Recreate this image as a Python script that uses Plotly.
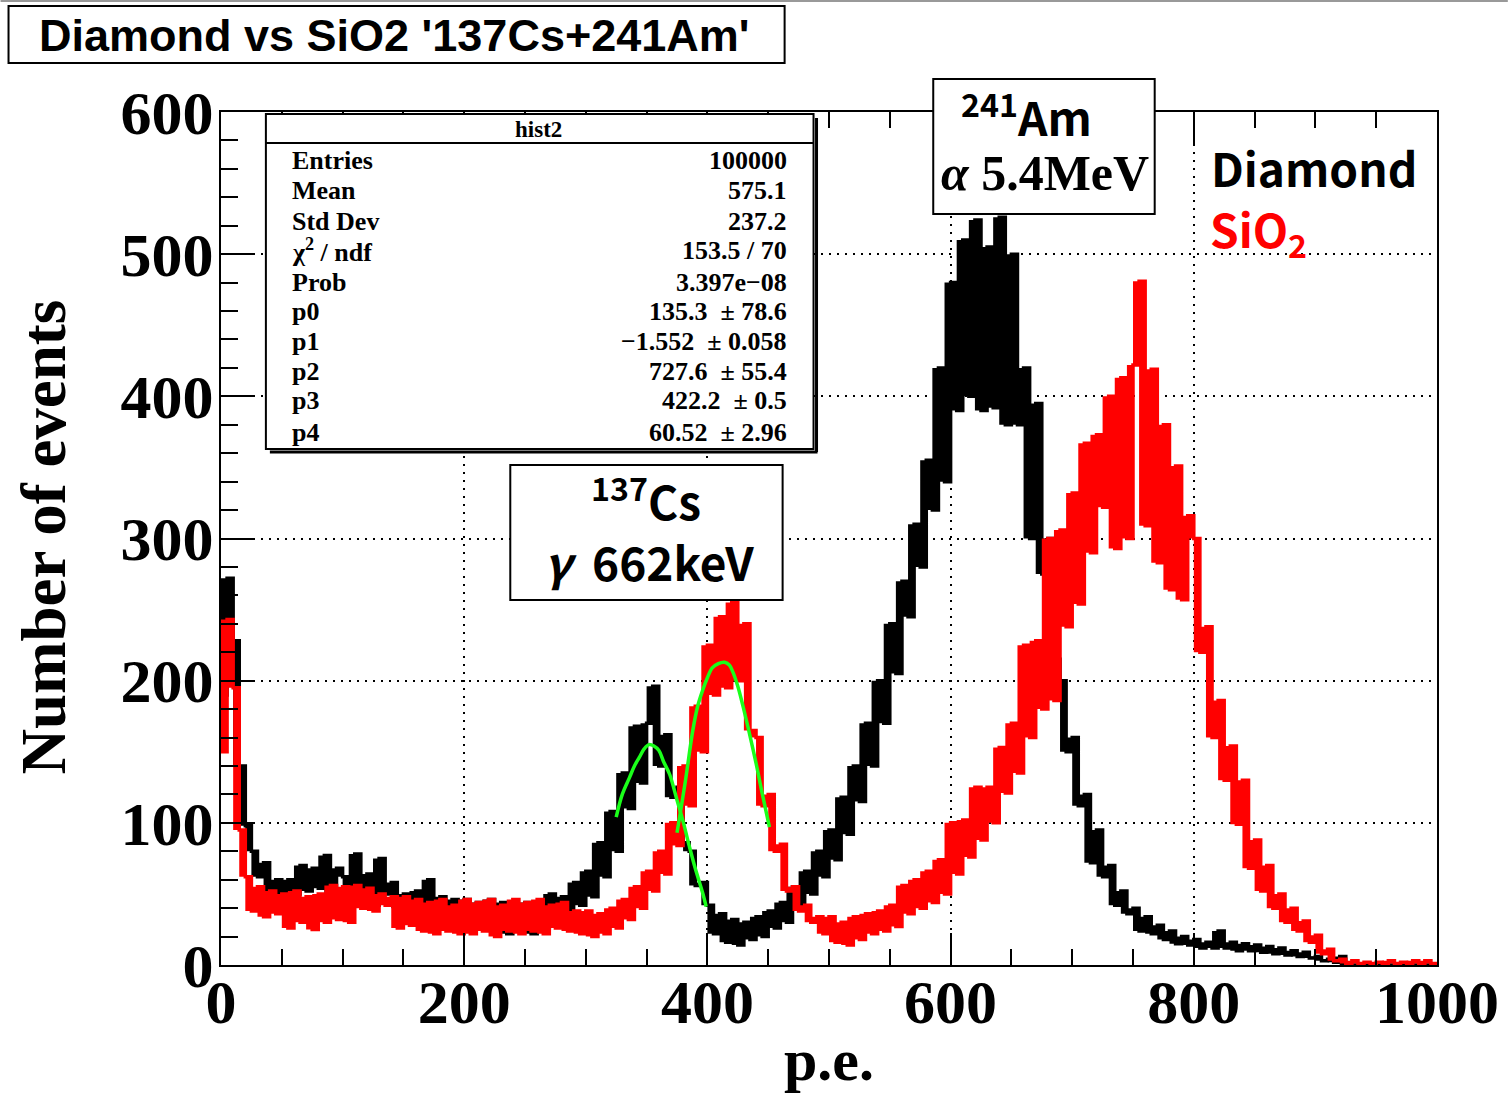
import plotly.graph_objects as go

# ---------------- data ----------------
BIN = 5  # p.e. per bin used for the transcription
diamond_counts = [
    190, 272, 228, 140, 98, 80, 62, 72, 50, 60,
    48, 60, 50, 70, 52, 68, 54, 77, 50, 68,
    62, 48, 78, 46, 64, 42, 75, 50, 58, 40,
    50, 34, 52, 28, 60, 36, 48, 30, 46, 32,
    46, 36, 44, 34, 46, 24, 44, 22, 42, 26,
    44, 22, 40, 26, 50, 30, 48, 28, 58, 42,
    66, 48, 86, 62, 108, 80, 135, 110, 168, 128,
    170, 196, 140, 162, 118, 125, 86, 80, 56, 58,
    42, 22, 36, 16, 32, 14, 30, 18, 34, 20,
    38, 26, 44, 30, 55, 40, 66, 50, 80, 62,
    95, 74, 118, 92, 140, 115, 170, 140, 200, 170,
    240, 205, 270, 245, 310, 280, 355, 320, 420, 340,
    480, 390, 510, 400, 524, 390, 505, 392, 526, 380,
    500, 380, 420, 300, 395, 275, 300, 215, 200, 150,
    160, 112, 120, 72, 95, 62, 70, 42, 52, 36,
    40, 24, 34, 22, 28, 18, 24, 15, 20, 14,
    18, 12, 16, 12, 24, 12, 16, 10, 15, 10,
    14, 9, 13, 8, 12, 7, 10, 6, 9, 5,
    6, 3, 4, 2, 6, 0, 0, 0, 0, 0,
    0, 0, 0, 0, 0, 0, 0, 0, 0, 0,
]
sio2_counts = [
    150, 243, 195, 95, 62, 38, 55, 34, 52, 36,
    50, 26, 52, 30, 48, 25, 50, 30, 56, 32,
    55, 30, 56, 40, 54, 38, 50, 42, 48, 26,
    48, 28, 46, 24, 44, 22, 46, 24, 42, 22,
    46, 22, 44, 24, 46, 20, 42, 24, 46, 22,
    44, 24, 46, 22, 42, 26, 44, 24, 38, 22,
    38, 20, 36, 22, 40, 26, 46, 32, 55, 40,
    66, 52, 80, 64, 100, 84, 140, 112, 182, 150,
    225, 190, 245, 195, 255, 200, 240, 165, 160, 112,
    120, 80, 85, 52, 55, 38, 42, 30, 34, 22,
    34, 16, 30, 14, 34, 18, 36, 22, 38, 24,
    42, 27, 56, 36, 60, 40, 66, 44, 74, 50,
    100, 64, 102, 76, 125, 88, 125, 100, 153, 121,
    170, 135, 225, 160, 228, 180, 300, 186, 306, 238,
    332, 254, 367, 290, 373, 322, 400, 293, 413, 300,
    422, 481, 309, 419, 283, 380, 264, 351, 257, 316,
    300, 220, 238, 160, 186, 130, 154, 99, 130, 68,
    88, 52, 70, 40, 50, 30, 40, 24, 31, 16,
    21, 8, 11, 3, 4, 1, 3, 1, 2, 1,
    2, 1, 3, 1, 2, 1, 3, 1, 3, 1,
]
# green fit curves (pol1+gaus)
fit_diamond_x = [325, 330, 336, 340, 344, 348, 352, 356, 360, 364, 369, 375, 380, 385, 390, 396, 399]
fit_diamond_y = [104, 120, 132, 140, 146, 152, 155, 154, 151, 143, 134, 116, 101, 84, 68, 51, 41]
fit_sio2_x = [375, 382, 388, 392, 396, 400, 404, 409, 414, 418, 421, 425, 429, 434, 440, 445, 451]
fit_sio2_y = [93, 130, 165, 182, 193, 202, 209, 212, 213, 211, 206, 196, 183, 165, 142, 121, 97]

stats_labels = ["Entries", "Mean", "Std Dev", "\u03c7<sup>2</sup> / ndf", "Prob", "p0", "p1", "p2", "p3", "p4"]
stats_values = ["100000", "575.1", "237.2", "153.5 / 70", "3.397e\u221208",
                "135.3  \u00b1 78.6", "\u22121.552  \u00b1 0.058", "727.6  \u00b1 55.4",
                "422.2  \u00b1 0.5", "60.52  \u00b1 2.96"]

x_ticks = [0, 200, 400, 600, 800, 1000]
y_ticks = [0, 100, 200, 300, 400, 500, 600]

# ---------------- figure ----------------
W, H = 1511, 1093
L, R, T, B = 221, 1440, 112, 965   # plot frame in page pixels


def px(x):
    return (x - L) / (R - L)


def py(y):
    return (B - y) / (B - T)


def hist_xy(counts):
    xs = [i * BIN for i in range(len(counts) + 1)]
    ys = list(counts) + [counts[-1]]
    return xs, ys


def add_hist(fig, counts, color, name):
    # dense bin-to-bin fluctuations: shade between neighbouring bin contents
    n = len(counts)
    lo = [min(counts[i], counts[min(i + 1, n - 1)]) for i in range(n)]
    hi = [max(counts[i], counts[min(i + 1, n - 1)]) for i in range(n)]
    xl, yl = hist_xy(lo)
    xh, yh = hist_xy(hi)
    fig.add_trace(go.Scatter(x=xl, y=yl, mode="lines", line=dict(width=0, shape="hv", color=color),
                             hoverinfo="skip", showlegend=False))
    fig.add_trace(go.Scatter(x=xh, y=yh, mode="lines", line=dict(width=0, shape="hv", color=color),
                             fill="tonexty", fillcolor=color, hoverinfo="skip", showlegend=False))
    xc, yc = hist_xy(counts)
    fig.add_trace(go.Scatter(x=xc, y=yc, mode="lines", line=dict(color=color, width=3.5, shape="hv"),
                             name=name, hoverinfo="skip"))


fig = go.Figure()
add_hist(fig, diamond_counts, "#000000", "Diamond")
add_hist(fig, sio2_counts, "#ff0000", "SiO2")
fig.add_trace(go.Scatter(x=fit_diamond_x, y=fit_diamond_y, mode="lines",
                         line=dict(color="#1aff1a", width=3.5, shape="spline"), hoverinfo="skip"))
fig.add_trace(go.Scatter(x=fit_sio2_x, y=fit_sio2_y, mode="lines",
                         line=dict(color="#1aff1a", width=3.5, shape="spline"), hoverinfo="skip"))

serif = "Liberation Serif"
sans = "Noto Sans CJK JP"

axis_common = dict(showline=True, linecolor="black", linewidth=2,
                   ticks="inside", tickcolor="black", tickwidth=2,
                   showgrid=True, gridcolor="black", gridwidth=2, griddash="2px,6px",
                   zeroline=False,
                   tickfont=dict(family=serif, size=62, color="black", weight="bold"))

fig.update_layout(
    width=W, height=H, showlegend=False,
    margin=dict(l=L, r=W - R, t=T, b=H - B, pad=0),
    paper_bgcolor="white", plot_bgcolor="white",
    xaxis=dict(range=[0, 1000], tickvals=x_ticks, ticklen=32, mirror="ticks",
               minor=dict(dtick=50, tick0=0, ticklen=16, ticks="inside", tickcolor="black",
                          tickwidth=2, showgrid=False),
               ticklabelstandoff=-18, **axis_common),
    yaxis=dict(range=[0, 600], tickvals=y_ticks, ticklen=32, mirror=True,
               minor=dict(dtick=20, tick0=0, ticklen=17, ticks="inside", tickcolor="black",
                          tickwidth=2, showgrid=False),
               ticklabelstandoff=-7, **axis_common),
)

shapes = []
annos = []

# top grey page line
shapes.append(dict(type="line", xref="paper", yref="paper", x0=px(0), x1=px(1511), y0=py(1), y1=py(1),
                   line=dict(color="#999999", width=2), layer="above"))

# title box
shapes.append(dict(type="rect", xref="paper", yref="paper", x0=px(8), x1=px(786), y0=py(63), y1=py(6),
                   line=dict(color="black", width=2), fillcolor="white", layer="above"))
annos.append(dict(text="Diamond vs SiO2 '137Cs+241Am'", x=px(395), y=py(36), xref="paper", yref="paper",
                  xanchor="center", yanchor="middle", showarrow=False,
                  font=dict(family="Liberation Sans", size=45, color="black", weight="bold")))

# stats box
shapes.append(dict(type="line", xref="paper", yref="paper", x0=px(818), x1=px(818), y0=py(452), y1=py(118),
                   line=dict(color="black", width=3), layer="above"))
shapes.append(dict(type="line", xref="paper", yref="paper", x0=px(270), x1=px(819), y0=py(452), y1=py(452),
                   line=dict(color="black", width=3), layer="above"))
shapes.append(dict(type="rect", xref="paper", yref="paper", x0=px(266), x1=px(815), y0=py(449), y1=py(114),
                   line=dict(color="black", width=2), fillcolor="white", layer="above"))
shapes.append(dict(type="line", xref="paper", yref="paper", x0=px(266), x1=px(815), y0=py(143), y1=py(143),
                   line=dict(color="black", width=2), layer="above"))
annos.append(dict(text="hist2", x=px(539), y=py(129), xref="paper", yref="paper",
                  xanchor="center", yanchor="middle", showarrow=False,
                  font=dict(family=serif, size=23, color="black", weight="bold")))
row_y = [160, 190, 221, 251, 282, 311, 341, 371, 401, 432]
for lab, val, yy in zip(stats_labels, stats_values, row_y):
    annos.append(dict(text=lab, x=px(290), y=py(yy), xref="paper", yref="paper",
                      xanchor="left", yanchor="middle", showarrow=False,
                      font=dict(family=serif, size=26, color="black", weight="bold")))
    annos.append(dict(text=val, x=px(790), y=py(yy), xref="paper", yref="paper",
                      xanchor="right", yanchor="middle", showarrow=False,
                      font=dict(family=serif, size=26, color="black", weight="bold")))

# 241Am box
shapes.append(dict(type="rect", xref="paper", yref="paper", x0=px(935), x1=px(1157), y0=py(214), y1=py(79),
                   line=dict(color="black", width=2), fillcolor="white", layer="above"))
annos.append(dict(text="<sup>241</sup>Am", x=px(1028), y=py(114), xref="paper", yref="paper",
                  xanchor="center", yanchor="middle", showarrow=False,
                  font=dict(family=sans, size=46, color="black", weight="bold")))
annos.append(dict(text="<i>\u03b1</i> 5.4MeV", x=px(1047), y=py(173), xref="paper", yref="paper",
                  xanchor="center", yanchor="middle", showarrow=False,
                  font=dict(family=serif, size=50, color="black", weight="bold")))

# 137Cs box
shapes.append(dict(type="rect", xref="paper", yref="paper", x0=px(511), x1=px(784), y0=py(600), y1=py(465),
                   line=dict(color="black", width=2), fillcolor="white", layer="above"))
annos.append(dict(text="<sup>137</sup>Cs", x=px(647), y=py(499), xref="paper", yref="paper",
                  xanchor="center", yanchor="middle", showarrow=False,
                  font=dict(family=sans, size=46, color="black", weight="bold")))
annos.append(dict(text="<i>\u03b3</i>  662keV", x=px(650), y=py(561), xref="paper", yref="paper",
                  xanchor="center", yanchor="middle", showarrow=False,
                  font=dict(family=sans, size=46, color="black", weight="bold")))

# legend-like labels
annos.append(dict(text="Diamond", x=px(1211), y=py(167), xref="paper", yref="paper",
                  xanchor="left", yanchor="middle", showarrow=False,
                  font=dict(family=sans, size=46, color="black", weight="bold")))
annos.append(dict(text="SiO<sub>2</sub>", x=px(1210), y=py(231), xref="paper", yref="paper",
                  xanchor="left", yanchor="middle", showarrow=False,
                  font=dict(family=sans, size=46, color="#ff0000", weight="bold")))

# axis titles
annos.append(dict(text="Number of events", x=px(44), y=py(537), xref="paper", yref="paper",
                  xanchor="center", yanchor="middle", showarrow=False, textangle=-90,
                  font=dict(family=serif, size=63, color="black", weight="bold")))
annos.append(dict(text="p.e.", x=px(830), y=py(1060), xref="paper", yref="paper",
                  xanchor="center", yanchor="middle", showarrow=False,
                  font=dict(family=serif, size=60, color="black", weight="bold")))

fig.update_layout(shapes=shapes, annotations=annos)
fig.write_html("out.html", config={"displayModeBar": False},
               post_script="document.body.style.margin='0px';document.body.style.overflow='hidden';")
